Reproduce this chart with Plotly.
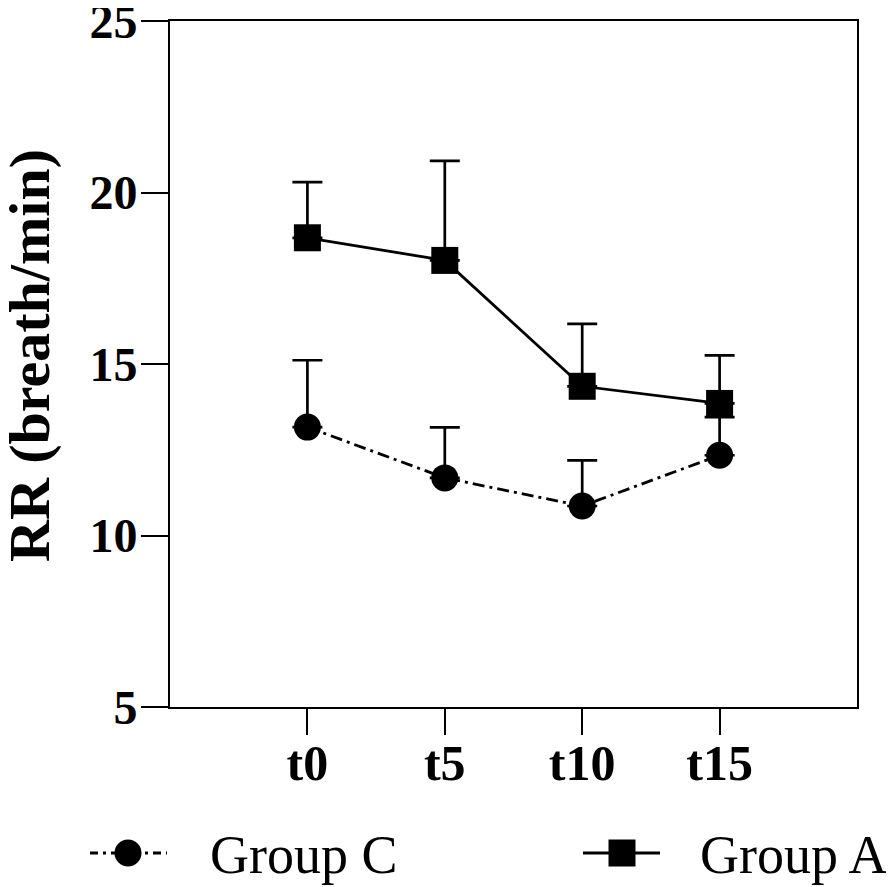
import plotly.graph_objects as go

categories = ["t0", "t5", "t10", "t15"]
group_c = [13.16, 11.68, 10.86, 12.34]
group_c_err = [1.95, 1.47, 1.33, 1.11]
group_a = [18.68, 18.02, 14.35, 13.85]
group_a_err = [1.62, 2.90, 1.82, 1.40]
y_ticks = [5, 10, 15, 20, 25]
series_names = ["Group C", "Group A"]
y_title = "RR (breath/min)"

FONT = "Liberation Serif, Times New Roman, serif"
# the page body has an 8px default margin; size the figure so it fits the 894x887 window
OFF = 8
W, H = 894 - OFF, 887 - OFF
ML, MR, MT, MB = 170 - OFF, 37, 21 - OFF, 180
PW, PH = W - ML - MR, H - MT - MB


def px_x(p):  # p: pixel position in the window
    return (p - OFF - ML) / PW


def px_y(p):
    return (H - MB - (p - OFF)) / PH


fig = go.Figure()
fig.add_trace(go.Scatter(
    x=categories, y=group_c, name=series_names[0], mode="lines+markers",
    line=dict(color="black", width=2.8, dash="12px,5px,3px,5px"),
    marker=dict(symbol="circle", size=27, color="black"),
    error_y=dict(type="data", array=group_c_err, arrayminus=[0]*4, symmetric=False,
                 color="black", thickness=2.7, width=15),
    showlegend=False,
))
fig.add_trace(go.Scatter(
    x=categories, y=group_a, name=series_names[1], mode="lines+markers",
    line=dict(color="black", width=2.8),
    marker=dict(symbol="square", size=27, color="black"),
    error_y=dict(type="data", array=group_a_err, arrayminus=[0]*4, symmetric=False,
                 color="black", thickness=2.7, width=15),
    showlegend=False,
))

# legend keys (drawn manually so that they match the original size)
LEG_Y = 853
shapes = [
    dict(type="line", xref="paper", yref="paper", x0=px_x(90), x1=px_x(167),
         y0=px_y(LEG_Y), y1=px_y(LEG_Y), line=dict(color="black", width=2.8, dash="8px,5px,3px,5px")),
    dict(type="circle", xref="paper", yref="paper", x0=px_x(128 - 13.5), x1=px_x(128 + 13.5),
         y0=px_y(LEG_Y + 13.5), y1=px_y(LEG_Y - 13.5), fillcolor="black", line=dict(width=0)),
    dict(type="line", xref="paper", yref="paper", x0=px_x(583), x1=px_x(660),
         y0=px_y(LEG_Y), y1=px_y(LEG_Y), line=dict(color="black", width=2.8)),
    dict(type="rect", xref="paper", yref="paper", x0=px_x(622 - 13.5), x1=px_x(622 + 13.5),
         y0=px_y(LEG_Y + 13.5), y1=px_y(LEG_Y - 13.5), fillcolor="black", line=dict(width=0)),
]
annotations = [
    dict(text=series_names[0], xref="paper", yref="paper", x=px_x(208), y=px_y(855),
         xanchor="left", yanchor="middle", showarrow=False,
         font=dict(family=FONT, size=54, color="black")),
    dict(text=series_names[1], xref="paper", yref="paper", x=px_x(698), y=px_y(855),
         xanchor="left", yanchor="middle", showarrow=False,
         font=dict(family=FONT, size=54, color="black")),
    dict(text="<b>" + y_title + "</b>", xref="paper", yref="paper", x=px_x(29), y=px_y(356),
         xanchor="center", yanchor="middle", showarrow=False, textangle=-90,
         font=dict(family=FONT, size=58, color="black")),
]

fig.update_layout(
    width=W, height=H,
    margin=dict(l=ML, r=MR, t=MT, b=MB),
    paper_bgcolor="white", plot_bgcolor="white",
    font=dict(family=FONT, color="black"),
    showlegend=False,
    shapes=shapes, annotations=annotations,
)
fig.update_xaxes(
    type="category", range=[-1, 4],
    tickvals=categories, ticktext=categories,
    showline=True, linecolor="black", linewidth=2, mirror=True,
    ticks="outside", ticklen=26, tickwidth=1.5, tickcolor="black",
    tickfont=dict(family=FONT, size=50, color="black", weight="bold"),
    ticklabelstandoff=-15, automargin=False,
    showgrid=False, zeroline=False,
)
fig.update_yaxes(
    range=[5, 25], tickvals=y_ticks,
    showline=True, linecolor="black", linewidth=2, mirror=True,
    ticks="outside", ticklen=27, tickwidth=1.5, tickcolor="black",
    tickfont=dict(family=FONT, size=48, color="black", weight="bold"),
    ticklabelstandoff=-6, ticklabeloverflow="allow", automargin=False,
    showgrid=False, zeroline=False,
)

fig.write_html("out.html")
